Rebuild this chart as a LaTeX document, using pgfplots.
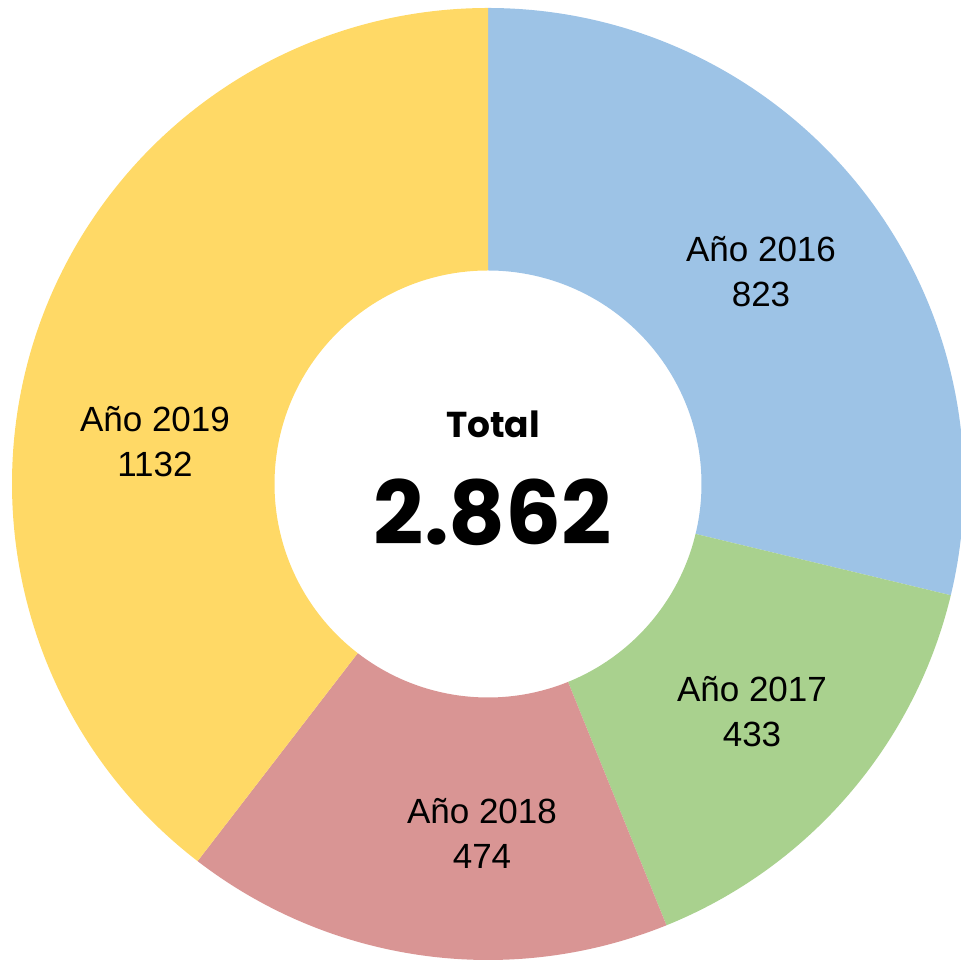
\documentclass[border=0pt]{standalone}
\usepackage{pgfplots}
\usepackage{pgfplotstable}
\pgfplotsset{compat=1.18}
\usepackage{fontspec}
\setmainfont{Liberation Sans}
\newfontfamily\headfont{Poppins}

\definecolor{c16}{HTML}{9DC3E6}
\definecolor{c17}{HTML}{A9D18E}
\definecolor{c18}{HTML}{D99594}
\definecolor{c19}{HTML}{FFD966}

\pgfplotstableread{
year value
2016 823
2017 433
2018 474
2019 1132
}\years

% ring radii in axis units (1 unit = 0.25pt)
\def\Ro{476}
\def\Ri{213.5}

% one ring segment between two angles
\newcommand\seg[3]{%
  \fill[#3] (axis cs:{\Ro*cos(#1)},{\Ro*sin(#1)})
    arc[start angle=#1, end angle=#2, radius=\Ro*0.25pt]
    -- (axis cs:{\Ri*cos(#2)},{\Ri*sin(#2)})
    arc[start angle=#2, end angle=#1, radius=\Ri*0.25pt] -- cycle;}

\newcommand\lab[4]{%
  \node[anchor=base, font=\fontsize{8.75}{10}\selectfont] at (axis cs:#1,#2) {Año #3};
  \node[anchor=base, font=\fontsize{8.75}{10}\selectfont] at (axis cs:#1,#2-45) {#4};}

\begin{document}
\begin{tikzpicture}
\pgfplotstablegetelem{0}{value}\of\years \let\vA\pgfplotsretval
\pgfplotstablegetelem{1}{value}\of\years \let\vB\pgfplotsretval
\pgfplotstablegetelem{2}{value}\of\years \let\vC\pgfplotsretval
\pgfplotstablegetelem{3}{value}\of\years \let\vD\pgfplotsretval
\pgfmathsetmacro\tot{\vA+\vB+\vC+\vD}
\pgfmathsetmacro\aA{90-360*(\vA/\tot)}
\pgfmathsetmacro\aB{\aA-360*(\vB/\tot)}
\pgfmathsetmacro\aC{\aB-360*(\vC/\tot)}
\begin{axis}[name=ring, x=0.25pt, y=0.25pt, scale only axis,
  xmin=-488, xmax=473, ymin=-479, ymax=484,
  hide axis, clip=true]
  \begin{scope}
  \clip (rel axis cs:0,0) rectangle (rel axis cs:1,1);
  \seg{90}{\aA}{c16}
  \seg{\aA}{\aB}{c17}
  \seg{\aB}{\aC}{c18}
  \seg{\aC}{-270}{c19}
  \end{scope}
  \lab{273}{222}{2016}{823}
  \lab{264}{-218}{2017}{433}
  \lab{-6}{-340}{2018}{474}
  \lab{-333}{52}{2019}{1132}
  \node[anchor=base, font=\headfont\bfseries\fontsize{9}{11}\selectfont] at (axis cs:5,46) {Total};
  \node[anchor=base, font=\headfont\bfseries\fontsize{22}{26}\selectfont] at (axis cs:5,-61) {2.862};
\end{axis}
\pgfresetboundingbox
\path[use as bounding box] (ring.south west) rectangle (ring.north east);
\end{tikzpicture}
\end{document}
